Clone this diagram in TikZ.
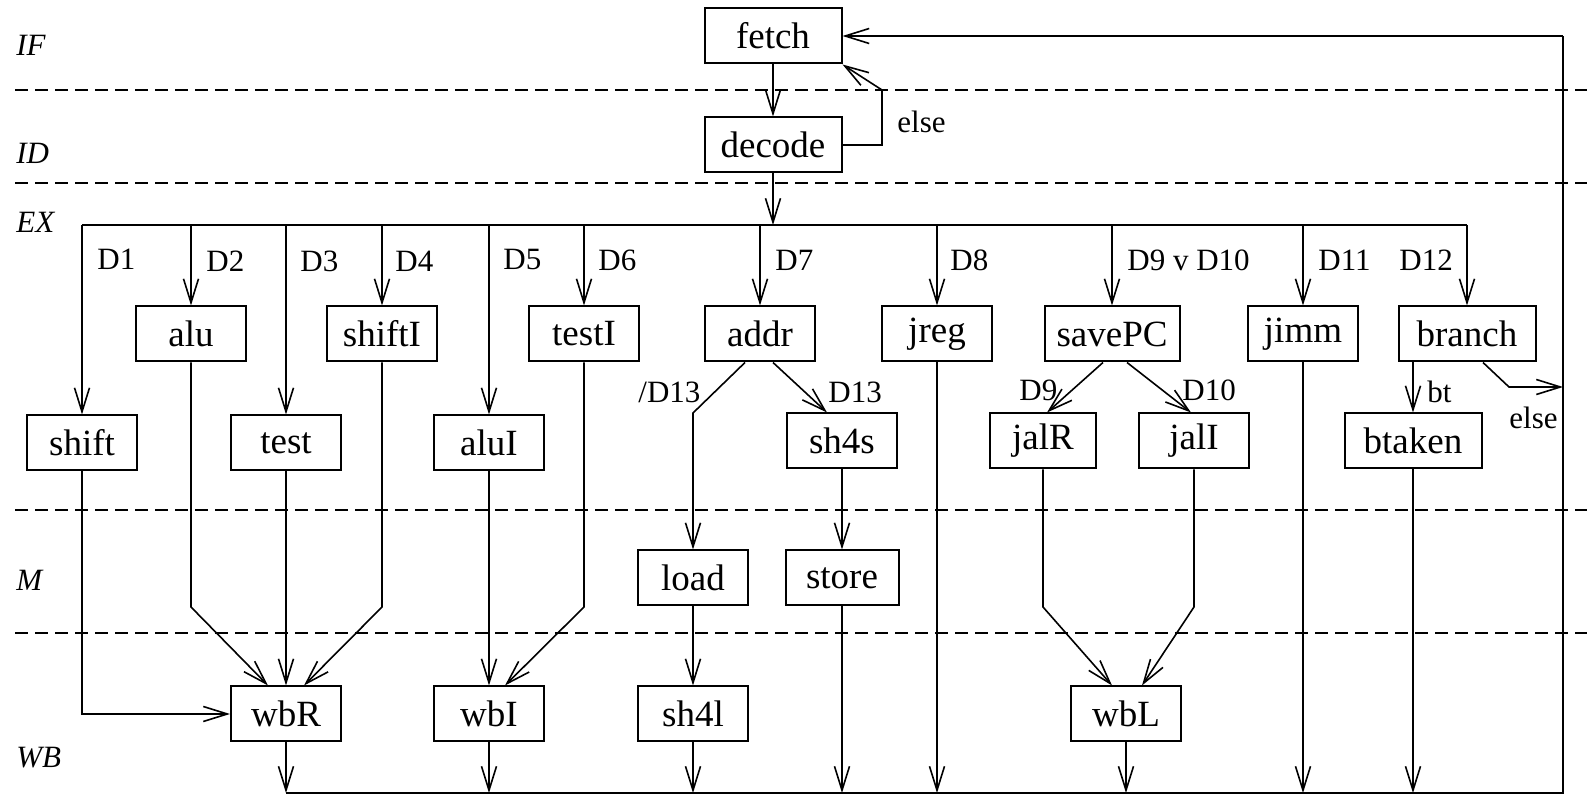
\documentclass[tikz,border=0pt]{standalone}
\usepackage{fontspec}
\setmainfont{Liberation Serif}
\usetikzlibrary{arrows.meta,calc}
\begin{document}
\begin{tikzpicture}[x=0.5pt,y=-0.5pt,
  box/.style={draw,line width=1pt,minimum height=27.5pt,minimum width=55pt,inner sep=0pt,font=\fontsize{18.5}{20}\selectfont},
  wbox/.style={box,minimum width=68.5pt},
  lbl/.style={inner sep=0pt,anchor=west,font=\fontsize{15.5}{17}\selectfont},
  stagelbl/.style={inner sep=0pt,anchor=west,font=\fontsize{15.5}{17}\selectfont\itshape},
  conn/.style={line width=0.8pt},
  arr/.style={conn,-{Straight Barb[length=12pt,width=7.5pt]}},
  stagesep/.style={line width=1pt,dash pattern=on 6.5pt off 3.5pt}]
\useasboundingbox (0,0) rectangle (1587,796);

% stage separators
\draw[stagesep] (15,90) -- (1587,90);
\draw[stagesep] (15,183) -- (1587,183);
\draw[stagesep] (15,510) -- (1587,510);
\draw[stagesep] (15,633) -- (1587,633);

% stage labels
\node[stagelbl] (sIF) at (16,45) {IF};
\node[stagelbl] (sID) at (16,153) {ID};
\node[stagelbl] (sEX) at (16,222) {EX};
\node[stagelbl] (sM) at (16,580) {M};
\node[stagelbl] (sWB) at (16,758) {WB};

% nodes
\node[wbox] (fetch) at (773,36) {fetch};
\node[wbox] (decode) at (773,145) {decode};
\node[box] (alu) at (191,334) {alu};
\node[box] (shiftI) at (382,334) {shiftI};
\node[box] (testI) at (584,334) {testI};
\node[box] (addr) at (760,334) {addr};
\node[box] (jreg) at (937,334) {jreg};
\node[box,minimum width=67.5pt] (savePC) at (1112,334) {savePC};
\node[box] (jimm) at (1303,334) {jimm};
\node[wbox] (branch) at (1467,334) {branch};
\node[box] (shift) at (82,443) {shift};
\node[box] (test) at (286,443) {test};
\node[box] (aluI) at (489,443) {aluI};
\node[box] (sh4s) at (842,441) {sh4s};
\node[box,minimum width=53pt] (jalR) at (1043,441) {jalR};
\node[box] (jalI) at (1194,441) {jalI};
\node[wbox] (btaken) at (1413,441) {btaken};
\node[box] (load) at (693,578) {load};
\node[box,minimum width=56.5pt] (store) at (842,578) {store};
\node[box] (wbR) at (286,714) {wbR};
\node[box] (wbI) at (489,714) {wbI};
\node[box] (sh4l) at (693,714) {sh4l};
\node[box] (wbL) at (1126,714) {wbL};

% IF / ID
\draw[arr] (fetch) -- (decode);
\coordinate (elseC) at (882,90);
\draw[arr] (decode.east) -| (elseC) -- (fetch.south east);
\node[lbl] (lelse1) at (897,122) {else};

% EX bus
\coordinate (busL) at (82,225);
\coordinate (busR) at (1467,225);
\draw[conn] (busL) -- (busR);
\draw[arr] (decode.south) -- (decode.south |- busL);
\draw[arr] (busL) -- (shift.north);
\draw[arr] (alu.north |- busL) -- (alu.north);
\draw[arr] (test.north |- busL) -- (test.north);
\draw[arr] (shiftI.north |- busL) -- (shiftI.north);
\draw[arr] (aluI.north |- busL) -- (aluI.north);
\draw[arr] (testI.north |- busL) -- (testI.north);
\draw[arr] (addr.north |- busL) -- (addr.north);
\draw[arr] (jreg.north |- busL) -- (jreg.north);
\draw[arr] (savePC.north |- busL) -- (savePC.north);
\draw[arr] (jimm.north |- busL) -- (jimm.north);
\draw[arr] (busR) -- (branch.north);

\node[lbl] (lD1) at (97,259) {D1};
\node[lbl] (lD2) at (206,261) {D2};
\node[lbl] (lD3) at (300,261) {D3};
\node[lbl] (lD4) at (395,261) {D4};
\node[lbl] (lD5) at (503,260) {D5};
\node[lbl] (lD6) at (598,260) {D6};
\node[lbl] (lD7) at (775,260) {D7};
\node[lbl] (lD8) at (950,260) {D8};
\node[lbl] (lD9D10) at (1127,260) {D9 v D10};
\node[lbl] (lD11) at (1318,260) {D11};
\node[lbl] (lD12) at (1399,260) {D12};

% addr split
\coordinate (nd13) at (693,413);
\draw[arr] ($(addr.south)+(-15,0)$) -- (nd13) -- (load.north);
\draw[arr] ($(addr.south)+(13,0)$) -- ($(sh4s.north)+(-15,0)$);
\node[lbl] (lnD13) at (638,392) {/D13};
\node[lbl] (lD13) at (828,392) {D13};

% savePC split
\draw[arr] ($(savePC.south)+(-9,0)$) -- ($(jalR.north)+(4,0)$);
\draw[arr] ($(savePC.south)+(15,0)$) -- ($(jalI.north)+(-3,0)$);
\node[lbl] (lD9) at (1019,390) {D9};
\node[lbl] (lD10) at (1182,390) {D10};

% branch
\draw[arr] (btaken.north |- branch.south) -- (btaken.north);
\node[lbl] (lbt) at (1427,392) {bt};
\coordinate (brE) at (1509,387);
\coordinate (bbR) at (1563,793);
\draw[arr] ($(branch.south)+(16,0)$) -- (brE) -- (brE -| bbR);
\node[lbl] (lelse2) at (1509,418) {else};

% to write-back
\coordinate (bend) at (0,607);
\draw[arr] (shift.south) |- (wbR.west);
\draw[arr] (alu.south) -- (alu.south |- bend) -- ($(wbR.north)+(-18,0)$);
\draw[arr] (test.south) -- (wbR.north);
\draw[arr] (shiftI.south) -- (shiftI.south |- bend) -- ($(wbR.north)+(18,0)$);
\draw[arr] (aluI.south) -- (wbI.north);
\draw[arr] (testI.south) -- (testI.south |- bend) -- ($(wbI.north)+(16,0)$);
\draw[arr] (load.south) -- (sh4l.north);
\draw[arr] (sh4s.south) -- (store.north);
\draw[arr] (jalR.south) -- (jalR.south |- bend) -- ($(wbL.north)+(-14,0)$);
\draw[arr] (jalI.south) -- (jalI.south |- bend) -- ($(wbL.north)+(16,0)$);

% bottom bus and return
\coordinate (bbL) at (286,793);
\coordinate (rtop) at (1563,36);
\draw[conn] (bbL) -- (bbR) -- (rtop);
\draw[arr] (rtop) -- (fetch.east);
\draw[arr] (wbR.south) -- (wbR.south |- bbL);
\draw[arr] (wbI.south) -- (wbI.south |- bbL);
\draw[arr] (sh4l.south) -- (sh4l.south |- bbL);
\draw[arr] (store.south) -- (store.south |- bbL);
\draw[arr] (jreg.south) -- (jreg.south |- bbL);
\draw[arr] (wbL.south) -- (wbL.south |- bbL);
\draw[arr] (jimm.south) -- (jimm.south |- bbL);
\draw[arr] (btaken.south) -- (btaken.south |- bbL);
\end{tikzpicture}
\end{document}
